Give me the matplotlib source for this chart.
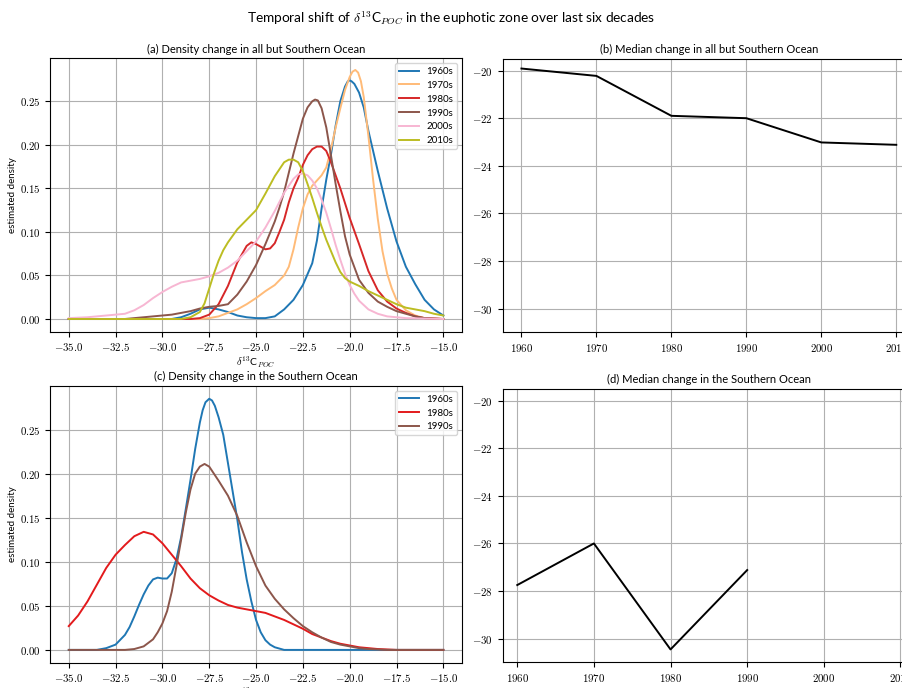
import matplotlib
matplotlib.use("Agg")
import matplotlib.pyplot as plt
from matplotlib.ticker import FuncFormatter, MultipleLocator

plt.rcParams["font.family"] = ["Lato", "DejaVu Sans"]
plt.rcParams["mathtext.fontset"] = "cm"

# (a) density, all but Southern Ocean: (delta13C, density)
a_1960s = [(-35, 0), (-29.5, 0), (-29, 0.002), (-28.5, 0.006), (-28, 0.011), (-27.5, 0.013),
           (-27, 0.011), (-26.5, 0.008), (-26, 0.004), (-25.5, 0.002), (-25, 0.001), (-24.5, 0.001),
           (-24, 0.003), (-23.5, 0.011), (-23, 0.022), (-22.5, 0.039), (-22, 0.064), (-21.75, 0.090),
           (-21.5, 0.127), (-21.25, 0.160), (-21, 0.189), (-20.75, 0.222), (-20.5, 0.250),
           (-20.25, 0.267), (-20.1, 0.273), (-20, 0.274), (-19.9, 0.273), (-19.75, 0.270),
           (-19.5, 0.260), (-19.25, 0.243), (-19, 0.216), (-18.5, 0.170), (-18, 0.127),
           (-17.5, 0.089), (-17, 0.060), (-16.5, 0.040), (-16, 0.022), (-15.5, 0.011), (-15, 0.004)]
a_1970s = [(-35, 0), (-28, 0), (-27.5, 0.001), (-27, 0.003), (-26.5, 0.007), (-26, 0.011),
           (-25.5, 0.017), (-25, 0.024), (-24.5, 0.032), (-24, 0.039), (-23.5, 0.050), (-23.25, 0.060),
           (-23, 0.080), (-22.75, 0.105), (-22.5, 0.127), (-22.25, 0.143), (-22, 0.153), (-21.75, 0.159),
           (-21.5, 0.165), (-21.25, 0.174), (-21, 0.195), (-20.75, 0.220), (-20.5, 0.242),
           (-20.25, 0.263), (-20, 0.278), (-19.85, 0.284), (-19.7, 0.286), (-19.55, 0.283),
           (-19.4, 0.273), (-19.25, 0.255), (-19, 0.210), (-18.75, 0.160), (-18.5, 0.115),
           (-18.25, 0.078), (-18, 0.052), (-17.75, 0.035), (-17.5, 0.022), (-17, 0.010),
           (-16.5, 0.004), (-16, 0.001), (-15, 0)]
a_1980s = [(-35, 0), (-28.5, 0), (-28, 0.001), (-27.5, 0.005), (-27, 0.017), (-26.5, 0.038),
           (-26, 0.065), (-25.5, 0.084), (-25.25, 0.088), (-25, 0.086), (-24.75, 0.083), (-24.5, 0.080),
           (-24.25, 0.081), (-24, 0.087), (-23.75, 0.100), (-23.5, 0.114), (-23.25, 0.134),
           (-23, 0.150), (-22.75, 0.162), (-22.5, 0.177), (-22.25, 0.188), (-22, 0.195),
           (-21.75, 0.198), (-21.5, 0.198), (-21.25, 0.193), (-21, 0.180), (-20.75, 0.165),
           (-20.5, 0.150), (-20, 0.116), (-19.5, 0.086), (-19, 0.055), (-18.5, 0.033), (-18, 0.020),
           (-17.5, 0.012), (-17, 0.007), (-16.5, 0.003), (-16, 0.001), (-15, 0)]
a_1990s = [(-35, 0), (-32, 0), (-31.5, 0.001), (-31, 0.002), (-30.5, 0.003), (-30, 0.004),
           (-29.5, 0.005), (-29, 0.007), (-28.5, 0.009), (-28, 0.012), (-27.5, 0.014), (-27, 0.015),
           (-26.5, 0.017), (-26, 0.028), (-25.5, 0.043), (-25, 0.062), (-24.5, 0.086), (-24, 0.112),
           (-23.75, 0.128), (-23.5, 0.146), (-23.25, 0.168), (-23, 0.190), (-22.75, 0.210),
           (-22.5, 0.230), (-22.25, 0.243), (-22, 0.250), (-21.85, 0.252), (-21.7, 0.251),
           (-21.5, 0.242), (-21.25, 0.220), (-21, 0.188), (-20.75, 0.155), (-20.5, 0.124),
           (-20.25, 0.095), (-20, 0.074), (-19.5, 0.045), (-19, 0.030), (-18.5, 0.020), (-18, 0.014),
           (-17.5, 0.009), (-17, 0.006), (-16.5, 0.003), (-16, 0.001), (-15, 0)]
a_2000s = [(-35, 0.001), (-34, 0.002), (-33, 0.004), (-32, 0.006), (-31.5, 0.010), (-31, 0.016),
           (-30.5, 0.024), (-30, 0.031), (-29.5, 0.037), (-29, 0.042), (-28.5, 0.044), (-28, 0.046),
           (-27.5, 0.049), (-27, 0.053), (-26.5, 0.059), (-26, 0.067), (-25.5, 0.078), (-25, 0.089),
           (-24.5, 0.105), (-24, 0.124), (-23.5, 0.145), (-23, 0.161), (-22.75, 0.166),
           (-22.5, 0.167), (-22.25, 0.165), (-22, 0.159), (-21.75, 0.150), (-21.5, 0.137),
           (-21.25, 0.122), (-21, 0.104), (-20.75, 0.085), (-20.5, 0.068), (-20.25, 0.052),
           (-20, 0.039), (-19.75, 0.029), (-19.5, 0.021), (-19, 0.011), (-18.5, 0.006), (-18, 0.003),
           (-17, 0.001), (-15, 0)]
a_2010s = [(-35, 0), (-29, 0), (-28.5, 0.002), (-28, 0.008), (-27.75, 0.018), (-27.5, 0.035),
           (-27.25, 0.052), (-27, 0.067), (-26.75, 0.079), (-26.5, 0.088), (-26, 0.103), (-25.5, 0.114),
           (-25, 0.125), (-24.5, 0.144), (-24, 0.164), (-23.5, 0.180), (-23.25, 0.183), (-23, 0.183),
           (-22.75, 0.180), (-22.5, 0.170), (-22.25, 0.155), (-22, 0.139), (-21.75, 0.122),
           (-21.5, 0.106), (-21.25, 0.091), (-21, 0.078), (-20.75, 0.065), (-20.5, 0.054),
           (-20.25, 0.047), (-20, 0.043), (-19.5, 0.038), (-19, 0.032), (-18.5, 0.027), (-18, 0.022),
           (-17.5, 0.017), (-17, 0.013), (-16.5, 0.011), (-16, 0.009), (-15.5, 0.006), (-15, 0.004)]

# (c) density, Southern Ocean
c_1960s = [(-35, 0), (-33.5, 0), (-33, 0.002), (-32.5, 0.006), (-32, 0.017), (-31.75, 0.026),
           (-31.5, 0.038), (-31.25, 0.051), (-31, 0.063), (-30.75, 0.073), (-30.5, 0.080),
           (-30.25, 0.082), (-30, 0.081), (-29.75, 0.081), (-29.5, 0.087), (-29.25, 0.103),
           (-29, 0.128), (-28.75, 0.160), (-28.5, 0.193), (-28.25, 0.228), (-28, 0.258),
           (-27.85, 0.272), (-27.7, 0.281), (-27.5, 0.285), (-27.35, 0.283), (-27.2, 0.277),
           (-27, 0.264), (-26.75, 0.244), (-26.5, 0.212), (-26.25, 0.180), (-26, 0.148),
           (-25.75, 0.111), (-25.5, 0.080), (-25.25, 0.055), (-25, 0.034), (-24.75, 0.020),
           (-24.5, 0.011), (-24.25, 0.006), (-24, 0.003), (-23.5, 0), (-15, 0)]
c_1980s = [(-35, 0.027), (-34.5, 0.039), (-34, 0.055), (-33.5, 0.074), (-33, 0.093), (-32.5, 0.108),
           (-32, 0.119), (-31.5, 0.129), (-31, 0.134), (-30.5, 0.131), (-30, 0.121), (-29.5, 0.108),
           (-29, 0.095), (-28.5, 0.081), (-28, 0.070), (-27.5, 0.062), (-27, 0.056), (-26.5, 0.051),
           (-26, 0.048), (-25.5, 0.046), (-25, 0.044), (-24.5, 0.042), (-24, 0.038), (-23.5, 0.034),
           (-23, 0.029), (-22.5, 0.024), (-22, 0.018), (-21.5, 0.014), (-21, 0.010), (-20.5, 0.007),
           (-20, 0.005), (-19.5, 0.003), (-19, 0.002), (-18.5, 0.001), (-17.5, 0), (-15, 0)]
c_1990s = [(-35, 0), (-32, 0), (-31.5, 0.001), (-31, 0.004), (-30.5, 0.012), (-30.25, 0.020),
           (-30, 0.030), (-29.75, 0.044), (-29.5, 0.066), (-29.25, 0.095), (-29, 0.125),
           (-28.75, 0.156), (-28.5, 0.182), (-28.25, 0.200), (-28, 0.208), (-27.75, 0.211),
           (-27.5, 0.208), (-27.25, 0.200), (-27, 0.192), (-26.5, 0.175), (-26, 0.152), (-25.5, 0.122),
           (-25, 0.095), (-24.5, 0.073), (-24, 0.058), (-23.5, 0.046), (-23, 0.036), (-22.5, 0.027),
           (-22, 0.020), (-21.5, 0.014), (-21, 0.009), (-20.5, 0.006), (-20, 0.004), (-19.5, 0.002),
           (-19, 0.001), (-18, 0), (-15, 0)]

# (b) and (d) medians
years_b = [1960, 1970, 1980, 1990, 2000, 2010]
median_b = [-19.90, -20.21, -21.89, -21.99, -23.01, -23.11]
years_d = [1960, 1970, 1980, 1990]
median_d = [-27.75, -26.00, -30.46, -27.12]

series_a = [("1960s", a_1960s, "#1f77b4"), ("1970s", a_1970s, "#ffbb78"),
            ("1980s", a_1980s, "#d62728"), ("1990s", a_1990s, "#8c564b"),
            ("2000s", a_2000s, "#f7b6d2"), ("2010s", a_2010s, "#bcbd22")]
series_c = [("1960s", c_1960s, "#1f77b4"), ("1980s", c_1980s, "#e31a1c"),
            ("1990s", c_1990s, "#8c564b")]

fig = plt.figure(figsize=(9.03, 6.88), dpi=100)
ax_a = fig.add_axes([0.0554, 0.518, 0.4563, 0.3974])
ax_b = fig.add_axes([0.5567, 0.517, 0.4566, 0.3972])
ax_c = fig.add_axes([0.0554, 0.0368, 0.4563, 0.4022])
ax_d = fig.add_axes([0.5567, 0.0374, 0.4566, 0.3972])

fig.suptitle(r"Temporal shift of $\delta^{13}$C$_{POC}$ in the euphotic zone over last six decades",
             fontsize=9.8, y=0.987)

tex = FuncFormatter(lambda v, p: f"${v:.1f}$")
tex2 = FuncFormatter(lambda v, p: f"${v:.2f}$")
texi = FuncFormatter(lambda v, p: f"${v:.0f}$")

for ax, series, title in [(ax_a, series_a, "(a) Density change in all but Southern Ocean"),
                          (ax_c, series_c, "(c) Density change in the Southern Ocean")]:
    for name, pts, col in series:
        xs, ys = zip(*pts)
        ax.plot(xs, ys, color=col, lw=1.4, label=name)
    ax.set_title(title, fontsize=8, pad=4)
    ax.set_xlim(-36, -14)
    ax.set_ylim(-0.0145, 0.2995)
    ax.xaxis.set_major_locator(MultipleLocator(2.5))
    ax.yaxis.set_major_locator(MultipleLocator(0.05))
    ax.xaxis.set_major_formatter(tex)
    ax.yaxis.set_major_formatter(tex2)
    ax.set_xlabel(r"$\delta^{13}$C$_{POC}$", fontsize=7.5, labelpad=1)
    ax.set_ylabel("estimated density", fontsize=7, labelpad=2)
    ax.grid(True)
    ax.tick_params(labelsize=7.8)
    ax.legend(loc="upper right", fontsize=7)

for ax, yrs, med, title, xl in [(ax_b, years_b, median_b, "(b) Median change in all but Southern Ocean", (1957.5, 2012.5)),
                                (ax_d, years_d, median_d, "(d) Median change in the Southern Ocean", (1958.1, 2011.9))]:
    ax.plot(yrs, med, color="black", lw=1.4)
    ax.set_title(title, fontsize=8, pad=4)
    ax.set_xlim(*xl)
    ax.set_ylim(-31, -19.5)
    ax.set_xticks(years_b)
    ax.yaxis.set_major_locator(MultipleLocator(2))
    ax.xaxis.set_major_formatter(texi)
    ax.yaxis.set_major_formatter(texi)
    ax.grid(True)
    ax.tick_params(labelsize=7.8)

fig.savefig("out.png", dpi=100)
